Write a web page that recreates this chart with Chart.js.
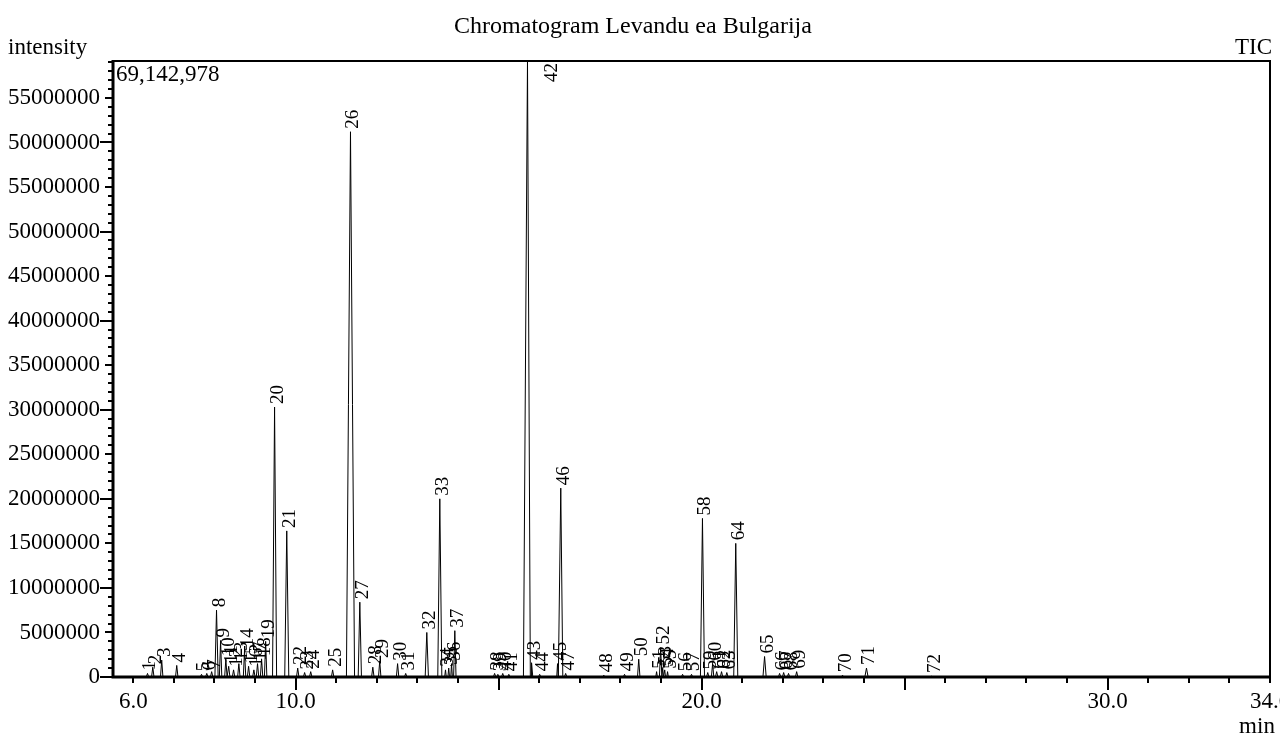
<!DOCTYPE html>
<html>
<head>
<meta charset="utf-8">
<script src="https://cdn.jsdelivr.net/npm/chart.js@4/dist/chart.umd.min.js"></script>
<style>
html,body{margin:0;padding:0;background:#fff;}
#wrap{width:1280px;height:738px;}
</style>
</head>
<body>
<div id="wrap"><canvas id="c" width="1280" height="738"></canvas></div>
<script>
// ---- data ----
const peakNumbers = [1,2,3,4,5,6,7,8,9,10,11,12,13,14,15,16,17,18,19,20,21,22,23,24,25,26,27,28,29,30,31,32,33,34,35,36,37,38,39,40,41,42,43,44,45,46,47,48,49,50,51,52,53,54,55,56,57,58,59,60,61,62,63,64,65,66,67,68,69,70,71,72];
const peakTimes = [6.35,6.48,6.70,7.07,7.68,7.81,7.93,8.05,8.15,8.28,8.35,8.47,8.60,8.74,8.84,8.97,9.06,9.16,9.26,9.48,9.78,10.05,10.22,10.37,10.91,11.35,11.58,11.90,12.07,12.51,12.71,13.23,13.55,13.69,13.77,13.84,13.92,14.90,14.98,15.10,15.25,15.71,15.81,16.01,16.45,16.53,16.65,17.59,18.10,18.45,18.89,18.99,19.04,19.09,19.16,19.53,19.75,20.02,20.15,20.27,20.37,20.49,20.62,20.84,21.55,21.92,22.02,22.14,22.34,23.47,24.06,25.67];
const peakHeights = [400000,1100000,1900000,1300000,300000,400000,600000,7500000,4100000,2000000,1200000,800000,1500000,3000000,1200000,800000,1500000,2000000,4000000,30300000,16400000,1000000,500000,600000,800000,61200000,8400000,1100000,1800000,1500000,400000,5000000,20000000,800000,1000000,1500000,5200000,400000,300000,400000,300000,69142978,1600000,300000,1500000,21200000,400000,200000,300000,2000000,600000,3300000,1000000,800000,600000,300000,300000,17800000,500000,1500000,600000,600000,500000,15000000,2300000,400000,500000,400000,600000,200000,1000000,100000];
const peakHalfWidths = [0.03,0.03,0.03,0.03,0.03,0.03,0.03,0.04,0.03,0.03,0.03,0.03,0.03,0.03,0.03,0.03,0.03,0.03,0.03,0.05,0.05,0.03,0.03,0.03,0.03,0.10,0.04,0.03,0.03,0.03,0.03,0.04,0.05,0.02,0.02,0.02,0.03,0.03,0.03,0.03,0.03,0.10,0.03,0.03,0.02,0.05,0.03,0.03,0.03,0.03,0.02,0.03,0.02,0.02,0.02,0.03,0.03,0.05,0.03,0.03,0.03,0.03,0.03,0.05,0.04,0.03,0.03,0.03,0.03,0.03,0.04,0.03];

const xTickValues = [6, 10, 20, 30, 34];
const xTickLabels = ["6.0", "10.0", "20.0", "30.0", "34.0"];
const yTickValues = [0,5000000,10000000,15000000,20000000,25000000,30000000,35000000,40000000,45000000,50000000,55000000,60000000,65000000];
const yTickLabels = ["0","5000000","10000000","15000000","20000000","25000000","30000000","35000000","40000000","45000000","50000000","55000000","50000000","55000000"];

const xMin = 5.5, xMax = 34;
const yMin = 0, yMax = 69142978;

const titleText = "Chromatogram Levandu ea Bulgarija";
const yAxisText = "intensity";
const traceText = "TIC";
const xAxisText = "min";
const maxText = "69,142,978";

// ---- build trace points from the peak table ----
const trace = [{x: xMin, y: 0}];
peakTimes.forEach((t, i) => {
  const w = peakHalfWidths[i];
  trace.push({x: t - w, y: 0});
  trace.push({x: t, y: peakHeights[i]});
  trace.push({x: t + w, y: 0});
});
trace.push({x: xMax, y: 0});
trace.sort((a, b) => a.x - b.x);

const FONT = "'Liberation Serif', 'Times New Roman', serif";

const decor = {
  id: 'decor',
  afterDatasetsDraw(chart) {
    const ctx = chart.ctx;
    const a = chart.chartArea;
    const xs = chart.scales.x, ys = chart.scales.y;
    ctx.save();
    ctx.fillStyle = '#000';
    ctx.font = "19px " + FONT;
    peakTimes.forEach((t, i) => {
      let px = xs.getPixelForValue(t);
      let py = ys.getPixelForValue(peakHeights[i]) - 3;
      const label = String(peakNumbers[i]);
      const w = ctx.measureText(label).width;
      if (py - w < a.top + 1) { py = a.top + 2 + w; px += 22; }
      ctx.save();
      ctx.translate(px + 3, py);
      ctx.rotate(-Math.PI / 2);
      ctx.textAlign = 'left';
      ctx.textBaseline = 'middle';
      ctx.fillText(label, 0, 0);
      ctx.restore();
    });
    ctx.restore();
  },
  afterDraw(chart) {
    const ctx = chart.ctx;
    const a = chart.chartArea;
    const xs = chart.scales.x, ys = chart.scales.y;
    ctx.save();
    ctx.strokeStyle = '#000';
    ctx.lineWidth = 2;
    ctx.beginPath();
    ctx.moveTo(a.left, a.top); ctx.lineTo(a.right, a.top); ctx.lineTo(a.right, a.bottom);
    ctx.stroke();
    ctx.lineWidth = 3;
    ctx.beginPath();
    ctx.moveTo(a.left, a.top - 1); ctx.lineTo(a.left, a.bottom); ctx.lineTo(a.right + 1, a.bottom);
    ctx.stroke();
    ctx.lineWidth = 2;
    for (let v = 6; v <= 34; v++) {
      const px = Math.round(xs.getPixelForValue(v));
      const len = (v % 5 === 0) ? 13 : 6;
      ctx.beginPath(); ctx.moveTo(px, a.bottom); ctx.lineTo(px, a.bottom + len); ctx.stroke();
    }
    for (let v = 0; v <= yMax; v += 1000000) {
      const py = Math.round(ys.getPixelForValue(v));
      const len = (v % 10000000 === 0) ? 13 : (v % 5000000 === 0 ? 8 : 5);
      ctx.beginPath(); ctx.moveTo(a.left, py); ctx.lineTo(a.left - len, py); ctx.stroke();
    }
    ctx.fillStyle = '#000';
    ctx.textBaseline = 'middle';
    ctx.font = "24px " + FONT;
    ctx.textAlign = 'center';
    ctx.fillText(titleText, 633, 27);
    ctx.font = "23px " + FONT;
    ctx.textAlign = 'left';
    ctx.fillText(yAxisText, 8, 48);
    ctx.fillText(maxText, a.left + 3, 75);
    ctx.textAlign = 'right';
    ctx.fillText(traceText, a.right + 2, 48);
    ctx.textAlign = 'center';
    ctx.fillText(xAxisText, 1257, 727);
    ctx.restore();
  }
};

Chart.defaults.font.family = FONT;
Chart.defaults.color = '#000';

new Chart(document.getElementById('c'), {
  type: 'line',
  data: {
    datasets: [{
      data: trace,
      borderColor: '#000',
      borderWidth: 1,
      pointRadius: 0,
      tension: 0,
      fill: false
    }]
  },
  options: {
    responsive: false,
    devicePixelRatio: 1,
    animation: false,
    layout: { padding: { top: 61, right: 10, left: 0, bottom: 0 } },
    plugins: { legend: { display: false }, tooltip: { enabled: false }, title: { display: false } },
    scales: {
      x: {
        type: 'linear', min: xMin, max: xMax,
        grid: { display: false, drawTicks: false },
        border: { display: false },
        afterBuildTicks: (s) => { s.ticks = xTickValues.map(v => ({ value: v })); },
        afterFit: (s) => { s.height = 61; s.paddingLeft = 0; s.paddingRight = 0; },
        ticks: {
          autoSkip: false, maxRotation: 0, minRotation: 0, padding: 11,
          font: { size: 23 },
          callback: (v, i) => xTickLabels[i]
        }
      },
      y: {
        type: 'linear', min: yMin, max: yMax,
        grid: { display: false, drawTicks: false },
        border: { display: false },
        afterBuildTicks: (s) => { s.ticks = yTickValues.map(v => ({ value: v })); },
        afterFit: (s) => { s.width = 113; s.paddingTop = 0; s.paddingBottom = 0; },
        ticks: {
          autoSkip: false, padding: 13,
          font: { size: 23 },
          callback: (v, i) => yTickLabels[i]
        }
      }
    }
  },
  plugins: [decor]
});
</script>
</body>
</html>
